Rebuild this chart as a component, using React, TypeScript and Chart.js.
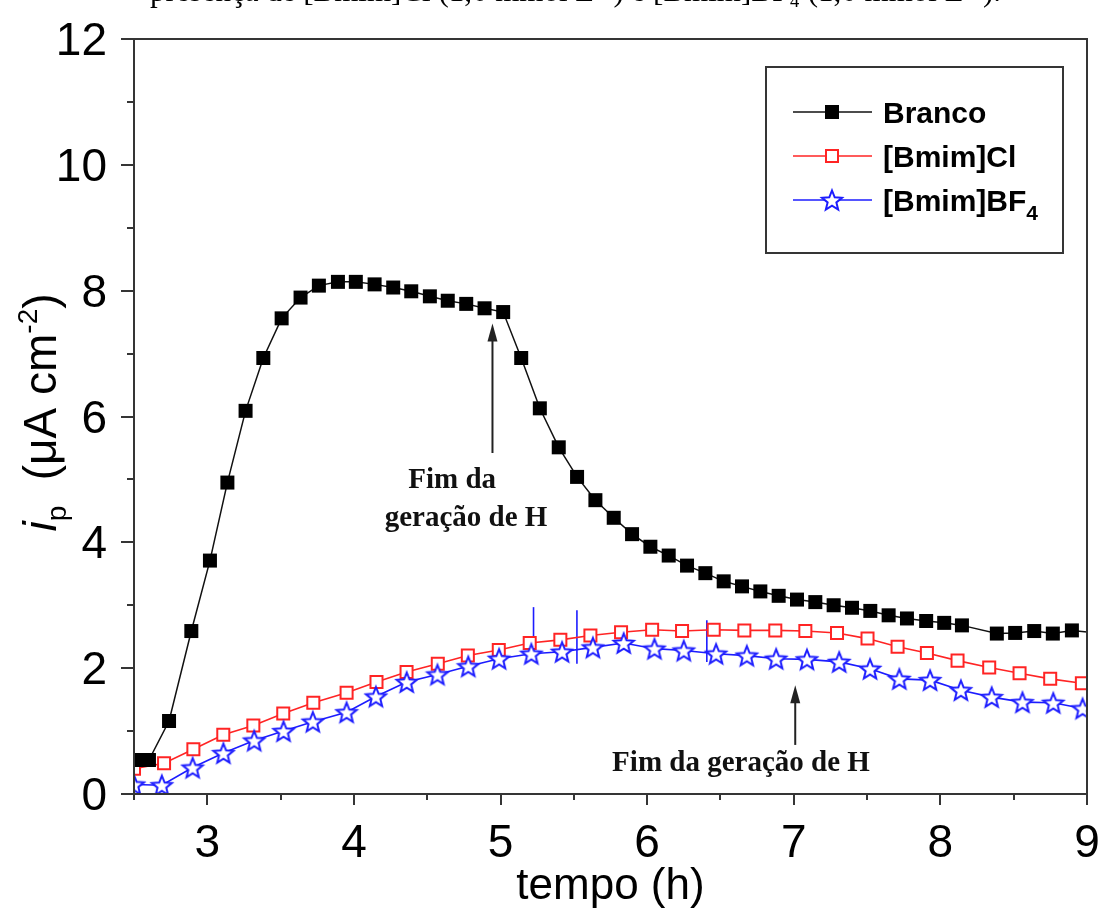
import { useEffect, useRef } from 'react';
import { Chart, registerables } from 'chart.js';

Chart.register(...registerables);

// Peak current vs. time for the blank and the two ionic liquids
const brancoX = [2.512, 2.602, 2.739, 2.891, 3.018, 3.137, 3.261, 3.382, 3.507, 3.636, 3.761, 3.891, 4.013, 4.141, 4.268, 4.391, 4.518, 4.64, 4.766, 4.891, 5.018, 5.141, 5.268, 5.397, 5.522, 5.647, 5.772, 5.897, 6.022, 6.147, 6.272, 6.397, 6.522, 6.647, 6.772, 6.897, 7.022, 7.147, 7.272, 7.397, 7.522, 7.647, 7.772, 7.903, 8.026, 8.147, 8.385, 8.51, 8.64, 8.767, 8.897, 9.023];
const brancoY = [0.54, 0.54, 1.16, 2.59, 3.71, 4.95, 6.09, 6.93, 7.56, 7.89, 8.08, 8.14, 8.14, 8.1, 8.05, 7.99, 7.91, 7.84, 7.79, 7.72, 7.66, 6.93, 6.13, 5.51, 5.04, 4.67, 4.39, 4.13, 3.93, 3.79, 3.63, 3.51, 3.38, 3.3, 3.22, 3.15, 3.09, 3.05, 3.0, 2.96, 2.91, 2.84, 2.79, 2.75, 2.72, 2.68, 2.55, 2.56, 2.59, 2.55, 2.6, 2.57];

const bmimClX = [2.5, 2.705, 2.905, 3.109, 3.314, 3.518, 3.723, 3.95, 4.154, 4.359, 4.572, 4.777, 4.988, 5.199, 5.408, 5.613, 5.822, 6.034, 6.238, 6.454, 6.663, 6.874, 7.079, 7.295, 7.503, 7.708, 7.908, 8.117, 8.333, 8.54, 8.749, 8.965];
const bmimClY = [0.4, 0.49, 0.71, 0.94, 1.09, 1.28, 1.45, 1.61, 1.78, 1.94, 2.07, 2.2, 2.29, 2.4, 2.45, 2.52, 2.57, 2.61, 2.59, 2.61, 2.6, 2.6, 2.59, 2.56, 2.47, 2.34, 2.24, 2.12, 2.01, 1.92, 1.83, 1.76];

const bmimBF4X = [2.5, 2.69, 2.9, 3.11, 3.32, 3.52, 3.72, 3.95, 4.15, 4.36, 4.57, 4.78, 4.99, 5.21, 5.42, 5.63, 5.84, 6.05, 6.25, 6.47, 6.68, 6.88, 7.09, 7.31, 7.52, 7.72, 7.93, 8.14, 8.35, 8.56, 8.77, 8.97];
const bmimBF4Y = [0.15, 0.14, 0.42, 0.65, 0.85, 1.0, 1.15, 1.3, 1.55, 1.78, 1.9, 2.03, 2.15, 2.23, 2.26, 2.33, 2.4, 2.31, 2.28, 2.23, 2.2, 2.15, 2.14, 2.1, 1.99, 1.83, 1.81, 1.65, 1.54, 1.46, 1.45, 1.36];

// Short noise spikes in the [Bmim]BF4 trace
const spikeX = [5.225, 5.521, 6.407];
const spikeBase = [2.2, 2.07, 2.1];
const spikeTop = [2.97, 2.92, 2.76];

const xMajorTicks = [3, 4, 5, 6, 7, 8, 9];
const xMinorTicks = [2.5, 3.5, 4.5, 5.5, 6.5, 7.5, 8.5];
const yMajorTicks = [0, 2, 4, 6, 8, 10, 12];
const yMinorTicks = [1, 3, 5, 7, 9, 11];

const seriesLabels = ['Branco', '[Bmim]Cl', '[Bmim]BF'];
const xTitle = 'tempo (h)';
const noteText = ['Fim da', 'geração de H', 'Fim da geração de H'];
const captionText = 'presença de [Bmim]Cl (1,0 mmol L⁻¹) e [Bmim]BF₄ (1,0 mmol L⁻¹).';

// Arrows marking the end of hydrogen generation (x, tail y, head y)
const arrowX = [4.945, 7.01];
const arrowFrom = [5.42, 0.78];
const arrowTo = [7.48, 1.73];

const SANS = '"Liberation Sans", Arial, Helvetica, sans-serif';
const SERIF = '"Liberation Serif", "Times New Roman", serif';
const BLACK = '#111111';
const RED = '#ff2424';
const BLUE = '#1c1cff';
const AXIS = '#353535';

function starPath(ctx: CanvasRenderingContext2D, cx: number, cy: number, R: number, r: number) {
  ctx.beginPath();
  for (let i = 0; i < 10; i++) {
    const a = -Math.PI / 2 + (i * Math.PI) / 5;
    const rad = i % 2 === 0 ? R : r;
    const px = cx + rad * Math.cos(a);
    const py = cy + rad * Math.sin(a);
    if (i === 0) ctx.moveTo(px, py);
    else ctx.lineTo(px, py);
  }
  ctx.closePath();
}

function makeStar(): HTMLCanvasElement {
  const size = 26;
  const c = document.createElement('canvas');
  c.width = size;
  c.height = size;
  const ctx = c.getContext('2d')!;
  starPath(ctx, size / 2, size / 2 + 1, 10.5, 4.6);
  ctx.fillStyle = '#ffffff';
  ctx.fill();
  ctx.lineWidth = 2;
  ctx.lineJoin = 'miter';
  ctx.strokeStyle = BLUE;
  ctx.stroke();
  return c;
}

type Run = { text: string; font: string; dy: number };

function drawRuns(ctx: CanvasRenderingContext2D, runs: Run[], x: number, y: number, align: 'left' | 'center') {
  let total = 0;
  for (const r of runs) {
    ctx.font = r.font;
    total += ctx.measureText(r.text).width;
  }
  let cx = align === 'center' ? x - total / 2 : x;
  ctx.textAlign = 'left';
  ctx.textBaseline = 'alphabetic';
  for (const r of runs) {
    ctx.font = r.font;
    ctx.fillText(r.text, cx, y + r.dy);
    cx += ctx.measureText(r.text).width;
  }
}

const decorPlugin = {
  id: 'decor',
  afterDraw(chart: any, _args: any, opts: any) {
    const ctx: CanvasRenderingContext2D = chart.ctx;
    const { left, right, top, bottom } = chart.chartArea;
    const xs = chart.scales.x;
    const ys = chart.scales.y;
    const star: HTMLCanvasElement = opts.star;

    ctx.save();

    // clipped caption line above the plot
    ctx.fillStyle = '#000';
    ctx.font = `31px ${SERIF}`;
    ctx.textAlign = 'left';
    ctx.textBaseline = 'alphabetic';
    ctx.fillText(captionText, 150, 1);

    // frame
    ctx.strokeStyle = AXIS;
    ctx.lineWidth = 2;
    ctx.strokeRect(left, top, right - left, bottom - top);

    // ticks
    ctx.lineWidth = 2;
    ctx.beginPath();
    for (const v of xMajorTicks) {
      const px = Math.round(xs.getPixelForValue(v));
      ctx.moveTo(px, bottom);
      ctx.lineTo(px, bottom + 11);
    }
    for (const v of xMinorTicks) {
      const px = Math.round(xs.getPixelForValue(v));
      ctx.moveTo(px, bottom);
      ctx.lineTo(px, bottom + 6);
    }
    for (const v of yMajorTicks) {
      const py = Math.round(ys.getPixelForValue(v));
      ctx.moveTo(left, py);
      ctx.lineTo(left - 13, py);
    }
    for (const v of yMinorTicks) {
      const py = Math.round(ys.getPixelForValue(v));
      ctx.moveTo(left, py);
      ctx.lineTo(left - 7, py);
    }
    ctx.stroke();

    // tick labels
    ctx.fillStyle = '#000';
    ctx.font = `46px ${SANS}`;
    ctx.textBaseline = 'alphabetic';
    ctx.textAlign = 'center';
    for (const v of xMajorTicks) {
      ctx.fillText(String(v), xs.getPixelForValue(v), bottom + 63);
    }
    ctx.textAlign = 'right';
    for (const v of yMajorTicks) {
      ctx.fillText(String(v), left - 27, ys.getPixelForValue(v) + 16);
    }

    // axis titles
    ctx.textAlign = 'center';
    ctx.font = `44px ${SANS}`;
    ctx.fillText(xTitle, (left + right) / 2, 899);

    ctx.save();
    ctx.translate(56, (top + bottom) / 2 - 4);
    ctx.rotate(-Math.PI / 2);
    drawRuns(
      ctx,
      [
        { text: 'i', font: `italic 46px ${SANS}`, dy: 0 },
        { text: 'p', font: `28px ${SANS}`, dy: 10 },
        { text: '  (μA cm', font: `46px ${SANS}`, dy: 0 },
        { text: '-2', font: `28px ${SANS}`, dy: -19 },
        { text: ')', font: `46px ${SANS}`, dy: 0 },
      ],
      0,
      0,
      'center'
    );
    ctx.restore();

    // arrows
    ctx.strokeStyle = '#222';
    ctx.fillStyle = '#222';
    ctx.lineWidth = 2;
    for (let i = 0; i < arrowX.length; i++) {
      const ax = xs.getPixelForValue(arrowX[i]);
      const y0 = ys.getPixelForValue(arrowFrom[i]);
      const y1 = ys.getPixelForValue(arrowTo[i]);
      ctx.beginPath();
      ctx.moveTo(ax, y0);
      ctx.lineTo(ax, y1 + 12);
      ctx.stroke();
      ctx.beginPath();
      ctx.moveTo(ax, y1);
      ctx.lineTo(ax - 5, y1 + 18);
      ctx.lineTo(ax + 5, y1 + 18);
      ctx.closePath();
      ctx.fill();
    }

    // annotation text
    ctx.fillStyle = '#111';
    ctx.font = `bold 29px ${SERIF}`;
    ctx.textAlign = 'center';
    ctx.fillText(noteText[0], xs.getPixelForValue(4.67), ys.getPixelForValue(4.86));
    ctx.fillText(noteText[1], xs.getPixelForValue(4.765), ys.getPixelForValue(4.26));
    ctx.fillText(noteText[2], xs.getPixelForValue(6.64), ys.getPixelForValue(0.36));

    // legend
    const bx = right - 321;
    const by = top + 28;
    ctx.strokeStyle = AXIS;
    ctx.lineWidth = 2;
    ctx.strokeRect(bx, by, 297, 186);
    const rowY = [by + 45, by + 89, by + 133];
    const colors = [BLACK, RED, BLUE];
    for (let i = 0; i < 3; i++) {
      const ry = rowY[i];
      ctx.strokeStyle = colors[i];
      ctx.lineWidth = 1.6;
      ctx.beginPath();
      ctx.moveTo(bx + 27, ry);
      ctx.lineTo(bx + 106, ry);
      ctx.stroke();
      const mx = bx + 66;
      if (i === 0) {
        ctx.fillStyle = '#000';
        ctx.fillRect(mx - 7, ry - 7, 14, 14);
      } else if (i === 1) {
        ctx.fillStyle = '#fff';
        ctx.fillRect(mx - 6, ry - 6, 12, 12);
        ctx.strokeStyle = RED;
        ctx.lineWidth = 2;
        ctx.strokeRect(mx - 6, ry - 6, 12, 12);
      } else {
        ctx.drawImage(star, mx - star.width / 2, ry - star.height / 2);
      }
      ctx.fillStyle = '#000';
      const runs: Run[] = [{ text: seriesLabels[i], font: `bold 30px ${SANS}`, dy: 0 }];
      if (i === 2) runs.push({ text: '4', font: `bold 21px ${SANS}`, dy: 9 });
      drawRuns(ctx, runs, bx + 117, ry + 11, 'left');
    }

    ctx.restore();
  },
};

export default function App() {
  const canvasRef = useRef<HTMLCanvasElement | null>(null);

  useEffect(() => {
    const canvas = canvasRef.current;
    if (!canvas) return;
    const star = makeStar();

    const toPoints = (xs: number[], ys: number[]) => xs.map((x, i) => ({ x, y: ys[i] }));

    const spikeSets = spikeX.map((x, i) => ({
      label: 'spike',
      data: [
        { x, y: spikeBase[i] },
        { x, y: spikeTop[i] },
      ],
      borderColor: BLUE,
      borderWidth: 1.6,
      pointRadius: 0,
      clip: 0,
      order: 5,
    }));

    const chart = new Chart(canvas, {
      type: 'line',
      data: {
        datasets: [
          {
            label: seriesLabels[0],
            data: toPoints(brancoX, brancoY),
            borderColor: BLACK,
            borderWidth: 1.5,
            pointStyle: 'rect',
            pointRadius: brancoX.map((x) => (x > 9 ? 0 : 9.9)),
            pointBackgroundColor: '#000',
            pointBorderColor: '#000',
            pointBorderWidth: 0,
            tension: 0,
            clip: 0,
            order: 1,
          },
          {
            label: seriesLabels[1],
            data: toPoints(bmimClX, bmimClY),
            borderColor: RED,
            borderWidth: 1.6,
            pointStyle: 'rect',
            pointRadius: 8.5,
            pointBackgroundColor: '#fff',
            pointBorderColor: RED,
            pointBorderWidth: 2,
            tension: 0,
            clip: 0,
            order: 3,
          },
          {
            label: seriesLabels[2] + '4',
            data: toPoints(bmimBF4X, bmimBF4Y),
            borderColor: BLUE,
            borderWidth: 1.6,
            pointStyle: star,
            pointRadius: 10,
            tension: 0,
            clip: 0,
            order: 2,
          },
          ...spikeSets,
        ],
      },
      options: {
        animation: false,
        responsive: false,
        devicePixelRatio: 1,
        events: [],
        layout: { padding: { left: 134, right: 12, top: 39, bottom: 119 } },
        scales: {
          x: { type: 'linear', min: 2.5, max: 9, display: false },
          y: { type: 'linear', min: 0, max: 12, display: false },
        },
        plugins: {
          legend: { display: false },
          tooltip: { enabled: false },
          decor: { star },
        } as any,
      },
      plugins: [decorPlugin],
    } as any);

    return () => chart.destroy();
  }, []);

  return (
    <div style={{ position: 'absolute', left: 0, top: 0, width: 1099, height: 913, background: '#fff' }}>
      <canvas ref={canvasRef} width={1099} height={913} />
    </div>
  );
}
